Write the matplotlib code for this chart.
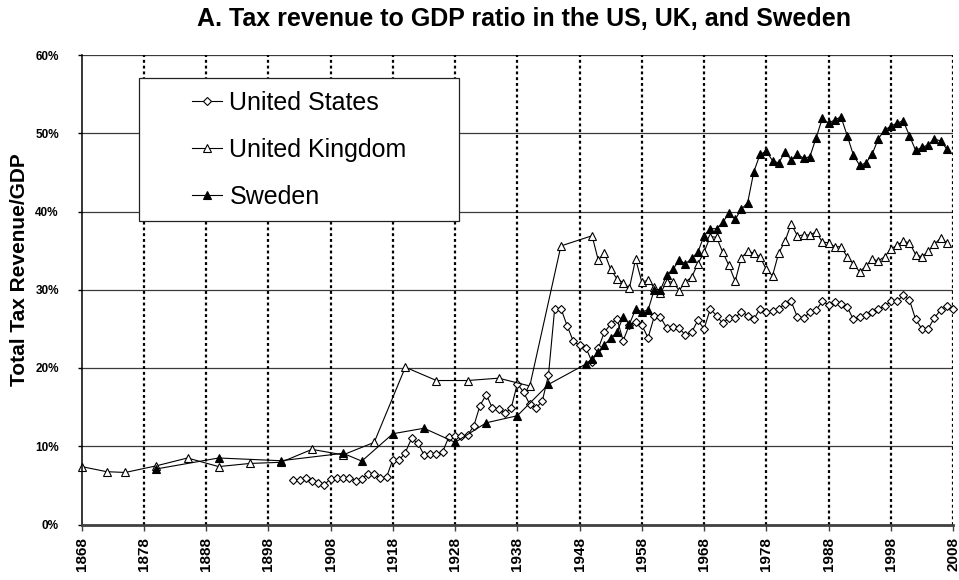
import matplotlib
matplotlib.use('Agg')
import matplotlib.pyplot as plt
from matplotlib.patches import Rectangle
from matplotlib.ticker import FuncFormatter

plt.rcParams['font.family'] = ['Liberation Sans', 'DejaVu Sans']

# ---------------- data (percent of GDP) ----------------
us_years = list(range(1902, 2009))
us_values = [
    5.75, 5.75, 5.9, 5.55, 5.3, 5.1, 5.85, 5.9, 5.9, 5.9,        # 1902-1911
    5.6, 5.8, 6.5, 6.45, 5.9, 6.1, 8.3, 8.2, 9.2, 11.0,          # 1912-1921
    10.4, 8.9, 9.0, 9.0, 9.3, 11.2, 11.3, 11.3, 11.4, 12.6,      # 1922-1931
    15.2, 16.6, 14.85, 14.7, 14.2, 14.85, 18.0, 16.9, 15.35, 14.9,  # 1932-1941
    15.75, 19.1, 27.6, 27.6, 25.4, 23.4, 22.9, 22.6, 20.8, 22.5,    # 1942-1951
    24.6, 25.6, 26.3, 23.5, 25.5, 25.9, 25.5, 23.85, 26.6, 26.5,    # 1952-1961
    25.1, 25.3, 25.1, 24.2, 24.55, 26.1, 25.0, 27.55, 26.7, 25.7,   # 1962-1971
    26.45, 26.4, 27.2, 26.7, 26.2, 27.6, 27.1, 27.3, 27.6, 28.2,    # 1972-1981
    28.5, 26.5, 26.4, 27.1, 27.4, 28.5, 28.1, 28.4, 28.2, 27.8,     # 1982-1991
    26.2, 26.5, 26.8, 27.2, 27.6, 27.9, 28.5, 28.5, 29.3, 28.7,     # 1992-2001
    26.2, 25.0, 25.0, 26.4, 27.4, 27.9, 27.5,                       # 2002-2008
]

uk_years = [1868, 1872, 1875, 1880, 1885, 1890, 1895, 1900, 1905, 1910,
            1915, 1920, 1925, 1930, 1935, 1940, 1945] + list(range(1950, 2008))
uk_values = [
    7.4, 6.75, 6.65, 7.5, 8.5, 7.4, 7.8, 7.95, 9.6, 8.9,
    10.5, 20.1, 18.4, 18.4, 18.7, 17.7, 35.6,
    36.9, 33.8, 34.7, 32.6, 31.4, 30.9, 30.2, 33.9, 31.0, 31.2,     # 1950-1959
    30.3, 29.6, 31.0, 31.0, 29.9, 31.0, 31.6, 33.3, 34.8, 36.8,     # 1960-1969
    36.7, 34.8, 33.1, 31.1, 34.1, 34.9, 34.7, 34.2, 32.6, 31.8,     # 1970-1979
    34.7, 36.2, 38.4, 36.9, 37.0, 37.0, 37.4, 36.1, 36.0, 35.5,     # 1980-1989
    35.5, 34.2, 33.3, 32.3, 33.0, 33.9, 33.7, 34.2, 35.2, 35.7,     # 1990-1999
    36.2, 36.0, 34.5, 34.2, 34.9, 35.8, 36.6, 36.0,                 # 2000-2007
]

se_years = [1880, 1890, 1900, 1910, 1913, 1918, 1923, 1928, 1933, 1938,
            1943] + list(range(1949, 2008))
se_values = [
    7.1, 8.5, 8.15, 9.1, 8.1, 11.6, 12.3, 10.5, 13.0, 13.9,
    17.9,
    20.5, 21.2, 22.0, 23.0, 23.8, 24.6, 26.5, 25.6, 27.5, 27.2,     # 1949-1958
    27.4, 30.0, 30.0, 31.9, 32.6, 33.8, 33.3, 34.0, 34.8, 36.9,     # 1959-1968
    37.8, 37.8, 38.6, 39.8, 39.0, 40.3, 41.1, 45.1, 47.3, 47.7,     # 1969-1978
    46.5, 46.2, 47.6, 46.6, 47.3, 46.8, 47.0, 49.4, 51.9, 51.3,     # 1979-1988
    51.7, 52.1, 49.7, 47.2, 45.9, 46.2, 47.3, 49.3, 50.4, 50.9,     # 1989-1998
    51.3, 51.6, 49.7, 47.8, 48.2, 48.5, 49.3, 49.0, 48.0,           # 1999-2007
]

series_labels = ['United States', 'United Kingdom', 'Sweden']
x_ticks = list(range(1868, 2009, 10))
y_ticks = [0, 10, 20, 30, 40, 50, 60]

title = 'A. Tax revenue to GDP ratio in the US, UK, and Sweden'
y_label = 'Total Tax Revenue/GDP'

# ---------------- figure ----------------
W, H = 959, 580
fig = plt.figure(figsize=(W / 100, H / 100), dpi=100)
fig.patch.set_facecolor('white')

x0, x1, ytop, ybot = 81.7, 953.0, 55.0, 524.5
ax = fig.add_axes([x0 / W, 1 - ybot / H, (x1 - x0) / W, (ybot - ytop) / H])

line_kw = dict(color='black', lw=0.8, clip_on=False, markeredgecolor='black',
               markeredgewidth=0.8)
h_us, = ax.plot(us_years, us_values, marker='D', markersize=3.7,
                markerfacecolor='white', zorder=3, **line_kw)
h_uk, = ax.plot(uk_years, uk_values, marker='^', markersize=6.2,
                markerfacecolor='white', zorder=3.1, **line_kw)
h_se, = ax.plot(se_years, se_values, marker='^', markersize=6.2,
                markerfacecolor='black', zorder=3.2, **line_kw)

ax.set_xlim(1868, 2008)
ax.set_ylim(0, 60)
ax.set_xticks(x_ticks)
ax.set_yticks(y_ticks)
ax.yaxis.set_major_formatter(FuncFormatter(lambda v, p: f'{int(v)}%'))

# gridlines
for yv in y_ticks[1:]:
    ax.axhline(yv, color='#3a3a3a', lw=0.9, zorder=1)
for xv in x_ticks[1:]:
    ax.axvline(xv, color='black', lw=1.6, linestyle=(0, (1.3, 1.3)), zorder=1)

for s in ['top', 'right']:
    ax.spines[s].set_visible(False)
ax.spines['left'].set_color('black')
ax.spines['left'].set_linewidth(1.1)
ax.spines['bottom'].set_color('#404040')
ax.spines['bottom'].set_linewidth(2.0)
ax.spines['left'].set_zorder(4)
ax.spines['bottom'].set_zorder(4)

ax.tick_params(axis='y', direction='out', length=3, width=1, color='black',
               pad=13.5, labelsize=8.5)
ax.tick_params(axis='x', direction='out', length=4, width=1, color='#404040',
               pad=5, labelsize=11)
for lab in ax.get_yticklabels():
    lab.set_fontweight('bold')
for lab in ax.get_xticklabels():
    lab.set_fontweight('bold')
    lab.set_rotation(90)

# legend frame + legend
lx0, ly0, lx1, ly1 = 139.3, 78.3, 459.3, 220.7
ax.add_patch(Rectangle((lx0 / W, 1 - ly1 / H), (lx1 - lx0) / W, (ly1 - ly0) / H,
                       transform=fig.transFigure, facecolor='white',
                       edgecolor='#222222', lw=0.9, zorder=5, clip_on=False))
leg = ax.legend([h_us, h_uk, h_se], series_labels, loc='center',
                bbox_to_anchor=((lx0 + lx1) / 2 / W, 1 - (ly0 + ly1) / 2 / H),
                bbox_transform=fig.transFigure, frameon=False, fontsize=18,
                handlelength=1.2, handletextpad=0.3, labelspacing=0.92,
                borderpad=0.2)
leg.set_zorder(6)

fig.text(524 / W, 1 - 19 / H, title, ha='center', va='center',
         fontsize=18, fontweight='bold')
fig.text(19.5 / W, 1 - 270 / H, y_label, ha='center', va='center',
         rotation=90, fontsize=15, fontweight='bold')

fig.savefig('out.png', dpi=100, facecolor='white')
